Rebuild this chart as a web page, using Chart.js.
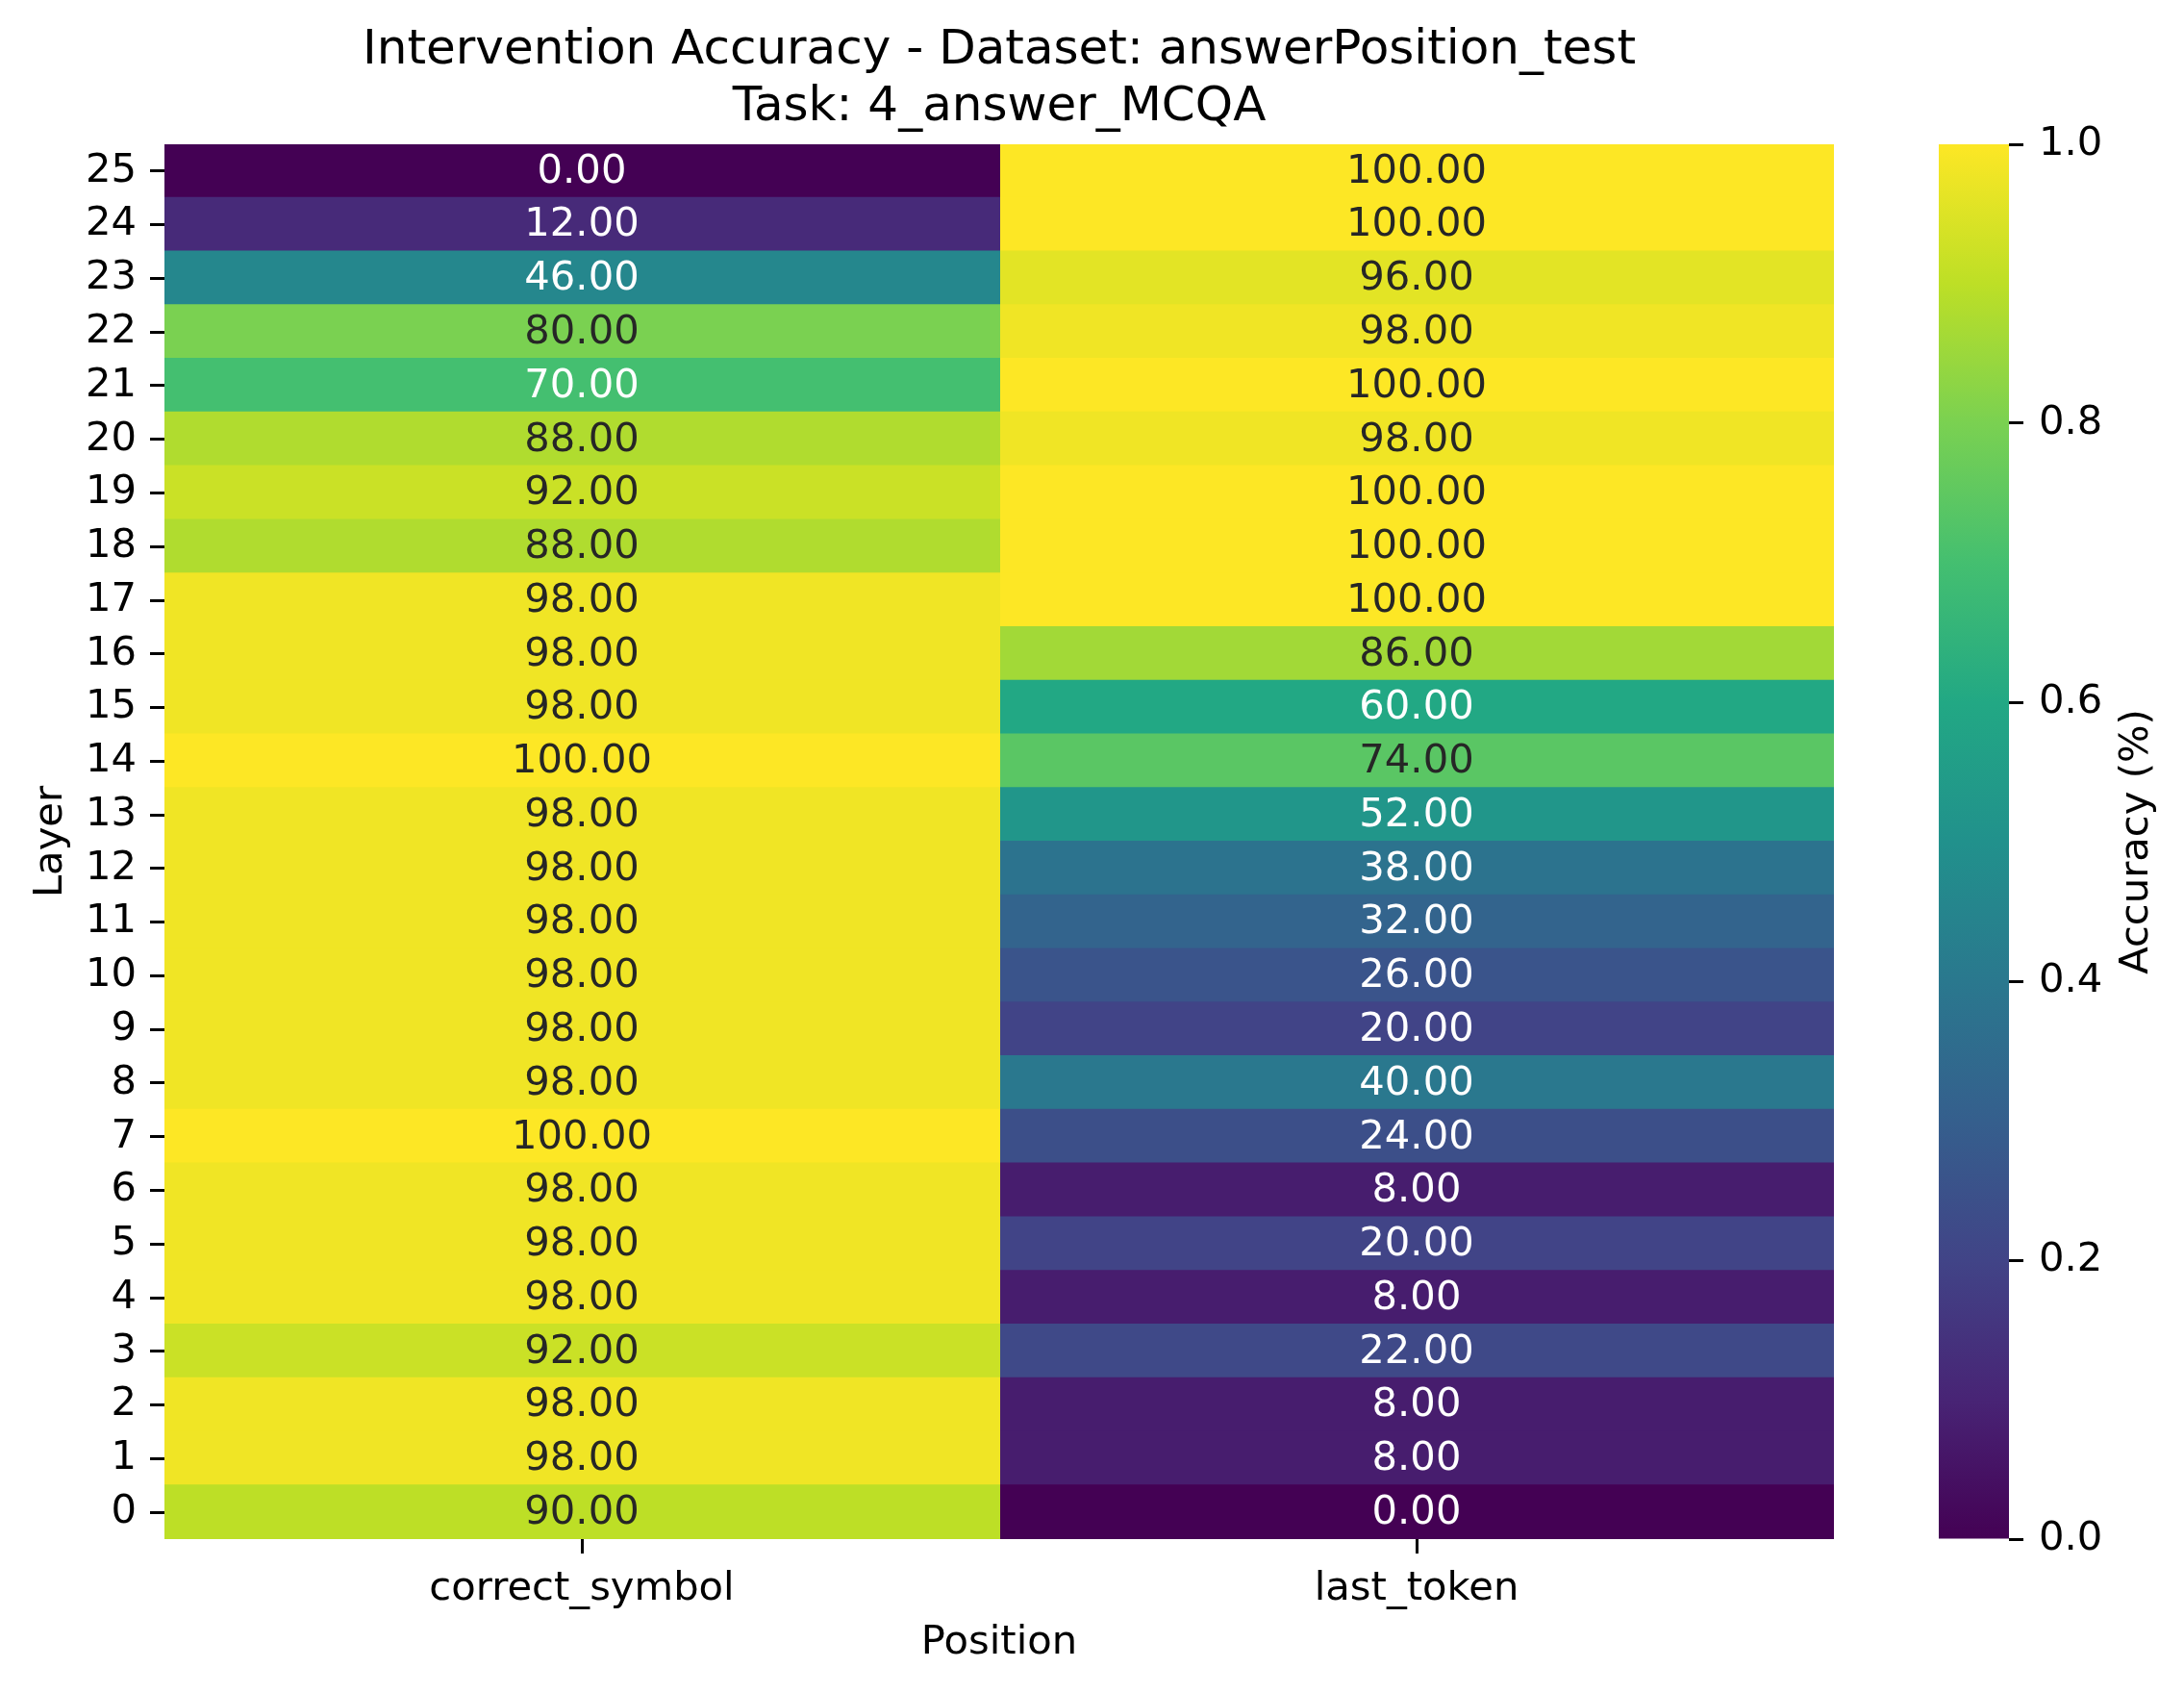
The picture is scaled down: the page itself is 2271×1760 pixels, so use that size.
<!DOCTYPE html>
<html>
<head>
<meta charset="utf-8">
<script src="https://cdn.jsdelivr.net/npm/chart.js@4.4.1/dist/chart.umd.min.js"></script>
<style>
  html, body { margin: 0; padding: 0; background: #fff; }
  #wrap { position: relative; width: 2271px; height: 1760px; }
  #heat { position: absolute; left: 0; top: 0; }
  #cbar { position: absolute; left: 1940px; top: 0; }
</style>
</head>
<body>
<div id="wrap">
  <canvas id="heat" width="2271" height="1760"></canvas>
  <canvas id="cbar" width="331" height="1760"></canvas>
</div>
<script>
// rows top to bottom, as in the picture
var layers = ['25','24','23','22','21','20','19','18','17','16','15','14','13','12','11','10','9','8','7','6','5','4','3','2','1','0'];
var positions = ['correct_symbol', 'last_token'];
var correct_symbol = [0, 12, 46, 80, 70, 88, 92, 88, 98, 98, 98, 100, 98, 98, 98, 98, 98, 98, 100, 98, 98, 98, 92, 98, 98, 90];
var last_token = [100, 100, 96, 98, 100, 98, 100, 100, 100, 86, 60, 74, 52, 38, 32, 26, 20, 40, 24, 8, 20, 8, 22, 8, 8, 0];
var cbar_ticks = [0, 0.2, 0.4, 0.6, 0.8, 1.0];

var FONT = "'DejaVu Sans', sans-serif";
Chart.defaults.font.family = FONT;
Chart.defaults.color = '#000';
Chart.defaults.devicePixelRatio = 1;

// viridis stops at 0, 0.1, ... 1
var viridis = ['#440154','#482475','#414487','#355f8d','#2a788e','#21918c','#22a884','#44bf70','#7ad151','#bddf26','#fde725'];

function hexRgb(h) {
    return [parseInt(h.substr(1,2),16), parseInt(h.substr(3,2),16), parseInt(h.substr(5,2),16)];
}
function viridisRgb(t) {
    t = Math.max(0, Math.min(1, t));
    var p = t * 10, i = Math.min(9, Math.floor(p)), f = p - i;
    var a = hexRgb(viridis[i]), b = hexRgb(viridis[i+1]);
    return [0,1,2].map(function(k){ return Math.round(a[k] + (b[k]-a[k])*f); });
}
function rgbStr(c) { return 'rgb(' + c[0] + ',' + c[1] + ',' + c[2] + ')'; }
function luminance(c) {
    var v = c.map(function(x){
        x = x / 255;
        return x <= 0.03928 ? x / 12.92 : Math.pow((x + 0.055) / 1.055, 2.4);
    });
    return 0.2126*v[0] + 0.7152*v[1] + 0.0722*v[2];
}

var series = [correct_symbol, last_token];
var datasets = series.map(function(vals, j) {
    var cols = vals.map(function(v){ return rgbStr(viridisRgb(v / 100)); });
    return {
        label: positions[j],
        data: vals.map(function(){ return [j, j + 1]; }),
        values: vals,
        backgroundColor: cols,
        borderWidth: 0,
        inflateAmount: 1,
        barPercentage: 1,
        categoryPercentage: 1,
        grouped: false
    };
});

var annotate = {
    id: 'annotate',
    afterDatasetsDraw: function(chart) {
        var ctx = chart.ctx;
        ctx.save();
        ctx.font = '41.7px ' + FONT;
        ctx.textAlign = 'center';
        ctx.textBaseline = 'middle';
        chart.data.datasets.forEach(function(ds, j) {
            chart.getDatasetMeta(j).data.forEach(function(bar, i) {
                var v = ds.values[i];
                var c = viridisRgb(v / 100);
                ctx.fillStyle = luminance(c) > 0.408 ? '#262626' : '#ffffff';
                var pos = bar.getCenterPoint();
                ctx.fillText(v.toFixed(2), pos.x, pos.y + 1);
            });
        });
        ctx.restore();
    }
};

new Chart(document.getElementById('heat'), {
    type: 'bar',
    data: { labels: layers, datasets: datasets },
    options: {
        indexAxis: 'y',
        responsive: false,
        animation: false,
        layout: { padding: { left: 0, right: 364, top: 0, bottom: 27 } },
        plugins: {
            legend: { display: false },
            tooltip: { enabled: false },
            title: {
                display: true,
                fullSize: false,
                text: ['Intervention Accuracy - Dataset: answerPosition_test', 'Task: 4_answer_MCQA'],
                color: '#000',
                font: { size: 50, weight: 'normal', lineHeight: 1.17 },
                padding: { top: 24, bottom: 9 }
            }
        },
        scales: {
            x: {
                type: 'linear',
                min: 0,
                max: 2,
                afterBuildTicks: function(scale) {
                    scale.ticks = positions.map(function(p, i){ return { value: i + 0.5 }; });
                },
                afterFit: function(scale) { scale.height = 133; },
                ticks: {
                    autoSkip: false,
                    maxRotation: 0,
                    padding: 12,
                    font: { size: 41.7 },
                    color: '#000',
                    callback: function(v, i) { return positions[i]; }
                },
                grid: { drawOnChartArea: false, drawTicks: true, tickLength: 15, tickWidth: 3, tickColor: '#000' },
                border: { display: false },
                title: { display: true, text: 'Position', color: '#000', font: { size: 41.7 }, padding: { top: 0, bottom: 0 } }
            },
            y: {
                type: 'category',
                afterFit: function(scale) { scale.width = 171; },
                ticks: { autoSkip: false, padding: 14, font: { size: 41.7 }, color: '#000' },
                grid: { offset: false, drawOnChartArea: false, drawTicks: true, tickLength: 15, tickWidth: 3, tickColor: '#000' },
                border: { display: false },
                title: { display: true, text: 'Layer', color: '#000', font: { size: 41.7 }, padding: { top: 28, bottom: 0 } }
            }
        }
    },
    plugins: [annotate]
});

// colour bar
var cbarLabel = {
    id: 'cbarLabel',
    afterDraw: function(chart) {
        var ctx = chart.ctx, a = chart.chartArea;
        ctx.save();
        ctx.translate(282, (a.top + a.bottom) / 2);
        ctx.rotate(-Math.PI / 2);
        ctx.font = '41.7px ' + FONT;
        ctx.fillStyle = '#000';
        ctx.textAlign = 'center';
        ctx.textBaseline = 'middle';
        ctx.fillText('Accuracy (%)', 0, 0);
        ctx.restore();
    }
};

new Chart(document.getElementById('cbar'), {
    type: 'bar',
    data: {
        labels: [''],
        datasets: [{
            data: [[cbar_ticks[0], cbar_ticks[cbar_ticks.length - 1]]],
            barPercentage: 1,
            categoryPercentage: 1,
            borderWidth: 0,
            inflateAmount: 0,
            backgroundColor: function(c) {
                var a = c.chart.chartArea;
                if (!a) return viridis[0];
                var g = c.chart.ctx.createLinearGradient(0, a.bottom, 0, a.top);
                viridis.forEach(function(h, i){ g.addColorStop(i / (viridis.length - 1), h); });
                return g;
            }
        }]
    },
    options: {
        responsive: false,
        animation: false,
        layout: { padding: { left: 76, right: 0, top: 150, bottom: 160 } },
        plugins: { legend: { display: false }, tooltip: { enabled: false } },
        scales: {
            x: { display: false },
            y: {
                position: 'right',
                min: 0,
                max: 1,
                afterBuildTicks: function(scale) {
                    scale.ticks = cbar_ticks.map(function(v){ return { value: v }; });
                },
                afterFit: function(scale) { scale.width = 182; },
                ticks: {
                    padding: 16,
                    font: { size: 41.7 },
                    color: '#000',
                    callback: function(v) { return v.toFixed(1); }
                },
                grid: { drawOnChartArea: false, drawTicks: true, tickLength: 15, tickWidth: 3, tickColor: '#000' },
                border: { display: false }
            }
        }
    },
    plugins: [cbarLabel]
});
</script>
</body>
</html>
